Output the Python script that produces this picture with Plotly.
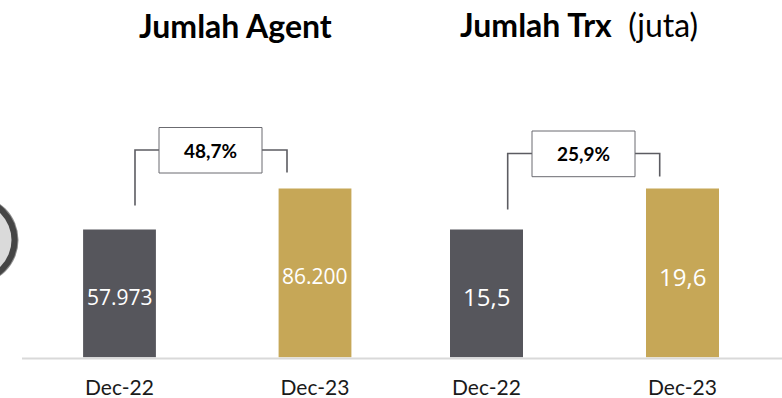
import plotly.graph_objects as go

categories = ["Dec-22", "Dec-23"]
agent_values = [57973, 86200]
agent_labels = ["57.973", "86.200"]
trx_values = [15.5, 19.6]
trx_labels = ["15,5", "19,6"]
bar_colors = ["#56565c", "#c6a757"]

W, H = 782, 398
BASE_PX, TOP_PX = 357.5, 60.0
PX_HEIGHT = BASE_PX - TOP_PX

# truncated value axes, as in the source graphic (41 px between the two bars)
agent_floor = 57973 - 128 * (86200 - 57973) / 41
agent_per_px = (86200 - 57973) / 41
trx_floor = 2.7
trx_per_px = 0.1


def px(x):
    return x / W


def py(y):
    return 1 - y / H


fig = go.Figure()
fig.add_bar(
    x=categories, y=[v - agent_floor for v in agent_values], base=agent_floor,
    marker=dict(color=bar_colors, line=dict(width=0)),
    xaxis="x", yaxis="y", hoverinfo="skip",
)
fig.add_bar(
    x=categories, y=[v - trx_floor for v in trx_values], base=trx_floor,
    marker=dict(color=bar_colors, line=dict(width=0)),
    xaxis="x2", yaxis="y2", hoverinfo="skip",
)

shapes = []


def line(points, color="#5c5c62", width=1.6):
    path = "M " + " L ".join(f"{px(x):.5f},{py(y):.5f}" for x, y in points)
    shapes.append(dict(type="path", xref="paper", yref="paper", path=path,
                       line=dict(color=color, width=width), layer="above"))


def rect(x0, y0, x1, y1, **kw):
    shapes.append(dict(type="rect", xref="paper", yref="paper",
                       x0=px(x0), x1=px(x1), y0=py(y0), y1=py(y1), **kw))


def circle(cx, cy, r, **kw):
    shapes.append(dict(type="circle", xref="paper", yref="paper",
                       x0=px(cx - r), x1=px(cx + r), y0=py(cy - r), y1=py(cy + r), **kw))


# decorative ring cut off by the left edge
circle(-26, 240, 44.5, fillcolor="#8c8c8c", line=dict(width=0), layer="below")
circle(-26, 240, 43.5, fillcolor="#454545", line=dict(width=0), layer="below")
circle(-26, 240, 37.5, fillcolor="#dadada", line=dict(width=0), layer="below")

# baseline
line([(22, 358.4), (782, 358.4)], color="#d9d9d9", width=2)

# brackets
line([(135, 205.5), (135, 150), (159, 150)])
line([(262, 150), (287, 150), (287, 172.5)])
rect(159, 127.5, 262, 173, fillcolor="#ffffff", line=dict(color="#6b6b70", width=1))
line([(507.7, 209.5), (507.7, 153.5), (532, 153.5)])
line([(635, 153.5), (659.7, 153.5), (659.7, 176.5)])
rect(532, 131, 635, 176.7, fillcolor="#ffffff", line=dict(color="#6b6b70", width=1))


def text(x, y, s, size, **kw):
    return dict(xref="paper", yref="paper", x=px(x), y=py(y), text=s, showarrow=False,
                xanchor="center", yanchor="middle", align="center",
                font=dict(family="Lato", size=size, color="#000000"), **kw)


def bar_labels(cats, values, labels, floor, xref, yref, size, shift):
    return [
        dict(x=c, y=(v + floor) / 2, xref=xref, yref=yref, text=t, showarrow=False,
             yshift=shift, xanchor="center", yanchor="middle",
             font=dict(family="Open Sans", size=size, color="#ffffff"))
        for c, v, t in zip(cats, values, labels)
    ]


annotations = [
    text(235, 26, "<b>Jumlah Agent</b>", 32),
    text(578.5, 24.5, "<b>Jumlah Trx</b>  (juta)", 32),
    text(210.5, 150, "<b>48,7%</b>", 19),
    text(583.5, 153.5, "<b>25,9%</b>", 19),
]
annotations += bar_labels(categories, agent_values, agent_labels, agent_floor, "x", "y", 21, -3)
annotations += bar_labels(categories, trx_values, trx_labels, trx_floor, "x2", "y2", 24, -3)

axis_common = dict(type="category", showgrid=False, zeroline=False, showline=False,
                   ticks="", tickfont=dict(family="Lato", size=21, color="#1a1a1a"),
                   ticklabelstandoff=15)
yaxis_common = dict(visible=False, showgrid=False, zeroline=False)

fig.update_layout(
    width=W, height=H, margin=dict(l=0, r=0, t=0, b=0),
    paper_bgcolor="#ffffff", plot_bgcolor="rgba(0,0,0,0)",
    showlegend=False, bargap=1 - 73 / 196,
    shapes=shapes, annotations=annotations,
    xaxis=dict(domain=[px(22), px(411)], anchor="y",
               range=[(22 - 119.5) / 195.5, (411 - 119.5) / 195.5], **axis_common),
    xaxis2=dict(domain=[px(411), 1], anchor="y2",
                range=[(411 - 486.5) / 196, (782 - 486.5) / 196], **axis_common),
    yaxis=dict(domain=[py(BASE_PX), py(TOP_PX)], anchor="x",
               range=[agent_floor, agent_floor + PX_HEIGHT * agent_per_px], **yaxis_common),
    yaxis2=dict(domain=[py(BASE_PX), py(TOP_PX)], anchor="x2",
                range=[trx_floor, trx_floor + PX_HEIGHT * trx_per_px], **yaxis_common),
)

fig.write_html("out.html", config={"displayModeBar": False},
               post_script="document.body.style.margin='0';document.documentElement.style.overflow='hidden';")
